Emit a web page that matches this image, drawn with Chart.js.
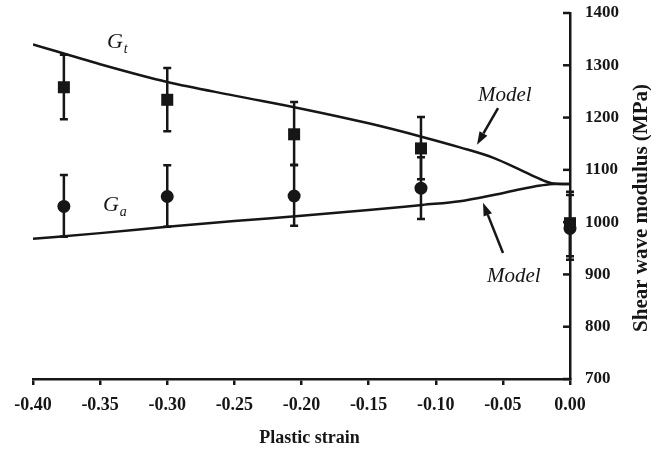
<!DOCTYPE html>
<html>
<head>
<meta charset="utf-8">
<script src="https://cdn.jsdelivr.net/npm/chart.js@4/dist/chart.umd.min.js"></script>
<style>
  html, body { margin: 0; padding: 0; background: #fff; }
  #wrap { width: 651px; height: 452px; }
</style>
</head>
<body>
<div id="wrap"><canvas id="c" width="651" height="452"></canvas></div>
<script>
// Measured shear wave modulus (MPa) versus plastic strain, with error bars
const strainPts = [-0.377, -0.300, -0.2055, -0.111, 0.000];
const gtMean = [1258, 1234, 1168, 1141, 998];
const gtHigh = [1320, 1295, 1230, 1201, 1058];
const gtLow  = [1197, 1174, 1109, 1082, 935];
const gaMean = [1030, 1049, 1050, 1065, 988];
const gaHigh = [1090, 1109, 1110, 1124, 1052];
const gaLow  = [972, 991, 993, 1006, 928];

// Model curves
const modelStrain = [-0.40, -0.35, -0.30, -0.25, -0.20, -0.15, -0.11, -0.082, -0.057, -0.037, -0.022, -0.012, 0.0];
const gtModel = [1340, 1302, 1268, 1242, 1217, 1189, 1163, 1143, 1123, 1100, 1082, 1074, 1073];
const gaModel = [968, 979, 991, 1002, 1012, 1023, 1033, 1040, 1052, 1063, 1070, 1073, 1073];

// Axis ticks
const xTicks = [-0.40, -0.35, -0.30, -0.25, -0.20, -0.15, -0.10, -0.05, 0.00];
const yTicks = [700, 800, 900, 1000, 1100, 1200, 1300, 1400];

const INK = '#161616';
const SERIF = '"Liberation Serif", "Times New Roman", serif';

// Text labels and arrows, placed in data coordinates
const notes = {
  gt:   { x: -0.3449, y: 1333 },
  ga:   { x: -0.3479, y: 1021 },
  modelUpper: { x: -0.0685, y: 1232, tail: [-0.0536, 1218], tip: [-0.0693, 1148] },
  modelLower: { x: -0.0618, y: 886,  tail: [-0.0499, 941],  tip: [-0.0648, 1037] }
};

function pts(xs, ys) { return xs.map((x, i) => ({ x: x, y: ys[i] })); }

function arrow(ctx, x1, y1, x2, y2) {
  const ang = Math.atan2(y2 - y1, x2 - x1);
  const len = 13, hw = 4.5;
  const bx = x2 - len * Math.cos(ang), by = y2 - len * Math.sin(ang);
  ctx.beginPath();
  ctx.moveTo(x1, y1);
  ctx.lineTo(bx, by);
  ctx.lineWidth = 2.5;
  ctx.strokeStyle = INK;
  ctx.stroke();
  ctx.beginPath();
  ctx.moveTo(x2, y2);
  ctx.lineTo(bx + hw * Math.sin(ang), by - hw * Math.cos(ang));
  ctx.lineTo(bx - hw * Math.sin(ang), by + hw * Math.cos(ang));
  ctx.closePath();
  ctx.fillStyle = INK;
  ctx.fill();
}

const decorations = {
  id: 'decorations',
  beforeDatasetsDraw(chart) {
    const ctx = chart.ctx, xs = chart.scales.x, ys = chart.scales.y;
    ctx.save();
    ctx.strokeStyle = INK;
    ctx.lineWidth = 2.5;
    const bars = [[gtHigh, gtLow], [gaHigh, gaLow]];
    bars.forEach(([hi, lo]) => {
      strainPts.forEach((s, i) => {
        const px = xs.getPixelForValue(s);
        const yh = ys.getPixelForValue(hi[i]);
        const yl = ys.getPixelForValue(lo[i]);
        ctx.beginPath();
        ctx.moveTo(px, yh); ctx.lineTo(px, yl);
        ctx.moveTo(px - 4, yh); ctx.lineTo(px + 4, yh);
        ctx.moveTo(px - 4, yl); ctx.lineTo(px + 4, yl);
        ctx.stroke();
      });
    });
    ctx.restore();
  },
  afterDraw(chart) {
    const ctx = chart.ctx, xs = chart.scales.x, ys = chart.scales.y, area = chart.chartArea;
    const X = v => xs.getPixelForValue(v), Y = v => ys.getPixelForValue(v);
    ctx.save();
    // inward tick marks on the right-hand axis
    ctx.strokeStyle = INK;
    ctx.lineWidth = 2.5;
    yTicks.forEach(v => {
      const py = Y(v);
      ctx.beginPath();
      ctx.moveTo(area.right - 7, py);
      ctx.lineTo(area.right, py);
      ctx.stroke();
    });

    ctx.fillStyle = INK;
    ctx.textBaseline = 'alphabetic';
    // axis titles
    ctx.font = 'bold 18px ' + SERIF;
    ctx.textAlign = 'center';
    ctx.fillText('Plastic strain', (area.left + area.right) / 2 + 8, 443);
    ctx.save();
    ctx.translate(647, 208);
    ctx.rotate(-Math.PI / 2);
    ctx.font = 'bold 21px ' + SERIF;
    ctx.fillText('Shear wave modulus (MPa)', 0, 0);
    ctx.restore();

    // curve labels
    ctx.textAlign = 'left';
    [['gt', 't'], ['ga', 'a']].forEach(([k, sub]) => {
      const px = X(notes[k].x), py = Y(notes[k].y);
      ctx.font = 'italic 22px ' + SERIF;
      ctx.fillText('G', px, py);
      const w = ctx.measureText('G').width;
      ctx.font = 'italic 14px ' + SERIF;
      ctx.fillText(sub, px + w + 1, py + 5);
    });

    ctx.font = 'italic 21px ' + SERIF;
    ['modelUpper', 'modelLower'].forEach(k => {
      const n = notes[k];
      ctx.fillText('Model', X(n.x), Y(n.y));
      arrow(ctx, X(n.tail[0]), Y(n.tail[1]), X(n.tip[0]), Y(n.tip[1]));
    });
    ctx.restore();
  }
};

new Chart(document.getElementById('c'), {
  type: 'scatter',
  data: {
    datasets: [
      {
        label: 'Gt model', type: 'line', data: pts(modelStrain, gtModel),
        borderColor: INK, borderWidth: 2.5, pointRadius: 0, fill: false,
        cubicInterpolationMode: 'monotone'
      },
      {
        label: 'Ga model', type: 'line', data: pts(modelStrain, gaModel),
        borderColor: INK, borderWidth: 2.5, pointRadius: 0, fill: false,
        cubicInterpolationMode: 'monotone'
      },
      {
        label: 'Gt', data: pts(strainPts, gtMean), pointStyle: 'rect', clip: false,
        pointRadius: 8.5, backgroundColor: INK, borderWidth: 0
      },
      {
        label: 'Ga', data: pts(strainPts, gaMean), pointStyle: 'circle', clip: false,
        pointRadius: 6.5, backgroundColor: INK, borderWidth: 0
      }
    ]
  },
  options: {
    responsive: false,
    animation: false,
    devicePixelRatio: 1,
    layout: { padding: { left: 33, top: 13, right: 0, bottom: 0 } },
    plugins: { legend: { display: false }, tooltip: { enabled: false } },
    scales: {
      x: {
        type: 'linear', position: 'bottom', min: -0.40, max: 0.0,
        afterBuildTicks: s => { s.ticks = xTicks.map(v => ({ value: v })); },
        afterFit: s => { s.height = 73; s.paddingLeft = 0; s.paddingRight = 0; },
        grid: { drawOnChartArea: false, drawTicks: true, tickLength: 6, color: INK, lineWidth: 2.5 },
        border: { display: true, color: INK, width: 2.5 },
        ticks: {
          color: INK, padding: 10, maxRotation: 0, autoSkip: false,
          font: { family: SERIF, weight: 'bold', size: 18 },
          callback: v => Number(v).toFixed(2)
        }
      },
      y: {
        type: 'linear', position: 'right', min: 700, max: 1400,
        afterBuildTicks: s => { s.ticks = yTicks.map(v => ({ value: v })); },
        afterFit: s => { s.width = 81; s.paddingTop = 0; s.paddingBottom = 0; },
        grid: { drawOnChartArea: false, drawTicks: false },
        border: { display: true, color: INK, width: 2.5 },
        ticks: {
          color: INK, padding: 15, autoSkip: false,
          font: { family: SERIF, weight: 'bold', size: 17 },
          callback: v => String(v)
        }
      }
    }
  },
  plugins: [decorations]
});
</script>
</body>
</html>
